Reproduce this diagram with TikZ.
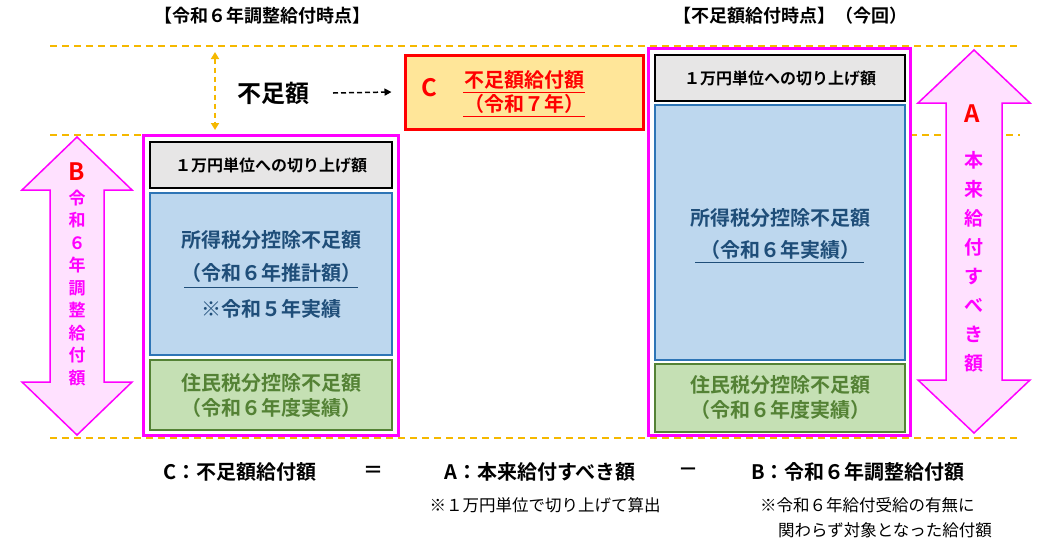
\documentclass[tikz,border=0pt]{standalone}
\usepackage{fontspec}
\setmainfont{Noto Sans CJK JP}[BoldFont={Noto Sans CJK JP Bold}]
\usetikzlibrary{arrows.meta}
\definecolor{org}{HTML}{F5B800}
\definecolor{mag}{HTML}{FF00FF}
\definecolor{pk}{HTML}{FFE1FF}
\definecolor{bfill}{HTML}{BDD7EE}
\definecolor{bline}{HTML}{2E75B6}
\definecolor{btext}{HTML}{1F4E79}
\definecolor{gfill}{HTML}{C5E0B4}
\definecolor{gline}{HTML}{548235}
\definecolor{gyfill}{HTML}{E7E6E6}
\definecolor{cfill}{HTML}{FFE699}
\begin{document}
\begin{tikzpicture}[x=1pt,y=-1pt,font=\bfseries,
 guide/.style={org,line width=2pt,dash pattern=on 7pt off 5pt},
 outer/.style={draw=mag,line width=3pt},
 gbox/.style={draw=black,line width=1.5pt,fill=gyfill},
 bbox/.style={draw=bline,line width=2.5pt,fill=bfill},
 grbox/.style={draw=gline,line width=2.5pt,fill=gfill},
 dbl/.style={draw=mag,line width=1.5pt,fill=pk},
 txt/.style={inner sep=0pt,font=\bfseries\fontsize{20}{24}\selectfont},
 small/.style={inner sep=0pt,font=\bfseries\fontsize{16}{18}\selectfont},
 note/.style={inner sep=0pt,font=\fontsize{16.5}{18}\selectfont}]
\useasboundingbox (0,0) rectangle (1056,547);
\draw[guide] (50,46) -- (1020,46);
\draw[guide] (50,135) -- (400,135);
\draw[guide] (910,135) -- (1020,135);
\draw[guide] (50,438) -- (1020,438);
\node[inner sep=0pt,font=\bfseries\fontsize{18}{20}\selectfont] (t1) at (262,16) {【令和６年調整給付時点】};
\node[inner sep=0pt,font=\bfseries\fontsize{18}{20}\selectfont] (t2) at (790,16) {【不足額給付時点】（今回）};
% left block
\draw[outer] (143,135) rectangle (398,435);
\draw[gbox] (150,142) rectangle (392,188);
\node[small] (lg) at (271,165) {１万円単位への切り上げ額};
\draw[bbox] (150,193) rectangle (392,355);
\node[txt,btext] (lb1) at (271,240) {所得税分控除不足額};
\node[txt,btext] (lb2) at (271,273) {（令和６年推計額）};
\draw[btext,line width=1pt] (184,287) -- (358,287);
\node[txt,btext] (lb3) at (271,309) {※令和５年実績};
\draw[grbox] (150,360) rectangle (392,430);
\node[txt,gline] (lgr1) at (271,383) {住民税分控除不足額};
\node[txt,gline] (lgr2) at (271,408) {（令和６年度実績）};
% shortfall
\coordinate (va) at (215,52); \coordinate (vb) at (215,130);
\draw[org,line width=2pt,dash pattern=on 5pt off 4pt,{Triangle[length=7pt,width=8pt]}-{Triangle[length=7pt,width=8pt]}] (va) -- (vb);
\node[inner sep=0pt,font=\bfseries\fontsize{24}{26}\selectfont] (fs) at (273,93) {不足額};
\node[draw=red,line width=3pt,fill=cfill,minimum width=238pt,minimum height=74pt] (c) at (524,92) {};
\coordinate (fa) at (333,93);
\draw[line width=1.5pt,dash pattern=on 5pt off 3pt,-{Triangle[length=7pt,width=7pt]}] (fa) -- ([xshift=-12pt]c.west);
\node[inner sep=0pt,red,font=\bfseries\fontsize{24}{26}\selectfont] (cl) at (429,88) {C};
\node[txt,red] (c1) at (524,80) {不足額給付額};
\draw[red,line width=1pt] (463,92) -- (585,92);
\node[txt,red] (c2) at (524,104) {（令和７年）};
\draw[red,line width=1pt] (463,116) -- (585,116);
% right block
\draw[outer] (648,48) rectangle (910,435);
\draw[gbox] (655,55) rectangle (905,101);
\node[small] (rg) at (780,78) {１万円単位への切り上げ額};
\draw[bbox] (655,105) rectangle (905,360);
\node[txt,btext] (rb1) at (780,218) {所得税分控除不足額};
\node[txt,btext] (rb2) at (780,250) {（令和６年実績）};
\draw[btext,line width=1pt] (695,262) -- (864,262);
\draw[grbox] (655,364) rectangle (905,432);
\node[txt,gline] (rgr1) at (780,385) {住民税分控除不足額};
\node[txt,gline] (rgr2) at (780,410) {（令和６年度実績）};
% double arrows
\draw[dbl] (77,137) -- (132,190) -- (104,190) -- (104,382) -- (132,382) -- (77,435) -- (22,382) -- (50,382) -- (50,190) -- (22,190) -- cycle;
\node[inner sep=0pt,red,font=\bfseries\fontsize{24}{26}\selectfont] (bl) at (77,172) {B};
\node[inner sep=0pt,mag,align=center,font=\bfseries\fontsize{17}{22.5}\selectfont] (bt) at (77,288) {令\\和\\６\\年\\調\\整\\給\\付\\額};
\draw[dbl] (974,50) -- (1030,103) -- (1002,103) -- (1002,380) -- (1030,380) -- (974,433) -- (918,380) -- (946,380) -- (946,103) -- (918,103) -- cycle;
\node[inner sep=0pt,red,font=\bfseries\fontsize{24}{26}\selectfont] (al) at (972,114) {A};
\node[inner sep=0pt,mag,align=center,font=\bfseries\fontsize{19}{29}\selectfont] (at) at (974,262) {本\\来\\給\\付\\す\\べ\\き\\額};
% bottom
\node[txt] (e1) at (240,472) {C：不足額給付額};
\node[txt] (e2) at (373,472) {＝};
\node[txt] (e3) at (540,472) {A：本来給付すべき額};
\node[txt] (e4) at (688,472) {－};
\node[txt] (e5) at (858,472) {B：令和６年調整給付額};
\node[note] (n1) at (545,505) {※１万円単位で切り上げて算出};
\node[note,anchor=west] (n2) at (760,505) {※令和６年給付受給の有無に};
\node[note,anchor=west] (n3) at (778,530) {関わらず対象となった給付額};
\end{tikzpicture}
\end{document}
